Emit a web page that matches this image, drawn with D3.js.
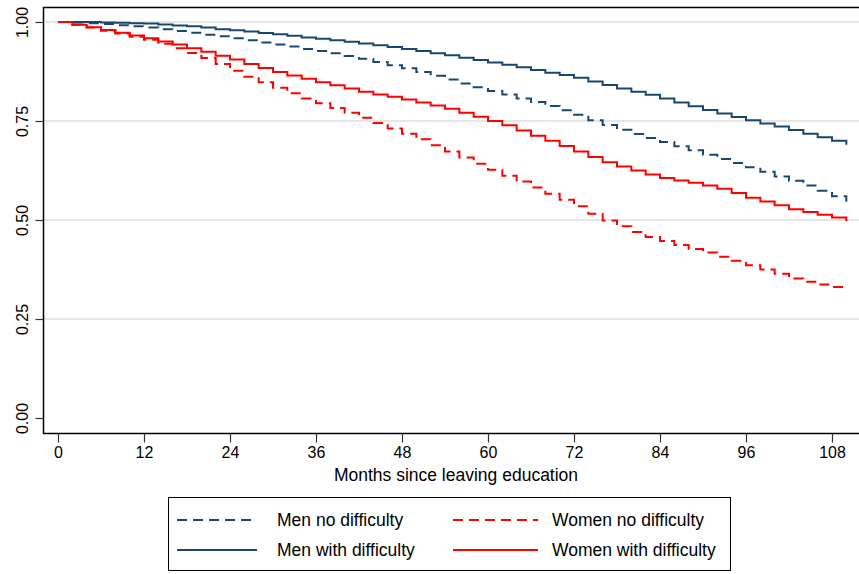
<!DOCTYPE html>
<html>
<head>
<meta charset="utf-8">
<script src="https://cdn.jsdelivr.net/npm/d3@7"></script>
<style>
  body { margin: 0; background: #fff; }
  text { font-family: "Liberation Sans", Arial, sans-serif; }
</style>
</head>
<body>
<div id="chart"></div>
<script>
// Months at which the survival estimates were read off (every 2 months, last at 110)
var months = [0, 2, 4, 6, 8, 10, 12, 14, 16, 18, 20, 22, 24, 26, 28, 30, 32, 34, 36, 38, 40,
              42, 44, 46, 48, 50, 52, 54, 56, 58, 60, 62, 64, 66, 68, 70, 72, 74, 76, 78, 80,
              82, 84, 86, 88, 90, 92, 94, 96, 98, 100, 102, 104, 106, 108, 110];

var menNoDiff = [1.0, 0.999, 0.997, 0.995, 0.992, 0.989, 0.986, 0.982, 0.977, 0.973, 0.968,
                 0.964, 0.959, 0.954, 0.948, 0.943, 0.938, 0.932, 0.927, 0.921, 0.914,
                 0.907, 0.899, 0.891, 0.883, 0.874, 0.864, 0.855, 0.845, 0.835, 0.826,
                 0.817, 0.807, 0.798, 0.788, 0.777, 0.766, 0.752, 0.740, 0.728, 0.717,
                 0.707, 0.697, 0.686, 0.676, 0.665, 0.654, 0.644, 0.633, 0.622, 0.610,
                 0.599, 0.587, 0.574, 0.560, 0.546];

var menWithDiff = [1.0, 1.0, 1.0, 0.999, 0.998, 0.997, 0.996, 0.994, 0.991, 0.989, 0.986,
                   0.982, 0.979, 0.976, 0.972, 0.969, 0.965, 0.961, 0.958, 0.954, 0.950,
                   0.946, 0.941, 0.937, 0.932, 0.927, 0.921, 0.916, 0.910, 0.904, 0.898,
                   0.892, 0.886, 0.879, 0.872, 0.866, 0.859, 0.850, 0.841, 0.832, 0.824,
                   0.816, 0.807, 0.797, 0.787, 0.778, 0.769, 0.760, 0.752, 0.744, 0.736,
                   0.727, 0.718, 0.709, 0.700, 0.690];

var womenNoDiff = [1.0, 0.993, 0.986, 0.978, 0.971, 0.963, 0.955, 0.945, 0.934, 0.922, 0.909,
                   0.894, 0.877, 0.862, 0.848, 0.834, 0.820, 0.807, 0.795, 0.783, 0.771,
                   0.758, 0.745, 0.731, 0.718, 0.704, 0.689, 0.673, 0.658, 0.642, 0.627,
                   0.612, 0.597, 0.582, 0.566, 0.551, 0.535, 0.516, 0.499, 0.484, 0.470,
                   0.457, 0.447, 0.437, 0.427, 0.418, 0.407, 0.397, 0.386, 0.375, 0.364,
                   0.352, 0.344, 0.337, 0.331, 0.325];

var womenWithDiff = [1.0, 0.993, 0.987, 0.980, 0.973, 0.966, 0.959, 0.951, 0.943, 0.934, 0.925,
                     0.915, 0.905, 0.894, 0.884, 0.874, 0.865, 0.857, 0.848, 0.840, 0.832,
                     0.824, 0.817, 0.811, 0.804, 0.797, 0.789, 0.781, 0.771, 0.761, 0.750,
                     0.739, 0.726, 0.713, 0.700, 0.687, 0.673, 0.659, 0.646, 0.635, 0.625,
                     0.615, 0.606, 0.600, 0.594, 0.587, 0.579, 0.568, 0.556, 0.547, 0.537,
                     0.527, 0.520, 0.513, 0.506, 0.497];

var xTicks = [0, 12, 24, 36, 48, 60, 72, 84, 96, 108];
var yTicks = [0, 0.25, 0.5, 0.75, 1];

var series = [
  { name: "Men no difficulty", values: menNoDiff, color: "#1a476f", dash: "10,6" },
  { name: "Women no difficulty", values: womenNoDiff, color: "#ff0000", dash: "10,6" },
  { name: "Men with difficulty", values: menWithDiff, color: "#1a476f", dash: null },
  { name: "Women with difficulty", values: womenWithDiff, color: "#ff0000", dash: null }
];

var width = 859, height = 574;

var svg = d3.select("#chart").append("svg")
    .attr("width", width)
    .attr("height", height);

var x = d3.scaleLinear().domain([0, 108]).range([58, 832]);
var y = d3.scaleLinear().domain([0, 1]).range([418, 22]);

// gridlines
svg.append("g")
    .selectAll("line")
    .data(yTicks.filter(d => d > 0))
    .enter().append("line")
    .attr("x1", 44).attr("x2", width)
    .attr("y1", d => y(d)).attr("y2", d => y(d))
    .attr("stroke", "#e6e6e6")
    .attr("stroke-width", 2);

// plot frame (right side runs off the page)
svg.append("path")
    .attr("d", "M" + (width + 2) + ",7.5H43.5V433.5H" + (width + 2))
    .attr("fill", "none")
    .attr("stroke", "#000")
    .attr("stroke-width", 1.5);

// y axis
var yAxis = svg.append("g")
    .attr("transform", "translate(43.5,0)")
    .call(d3.axisLeft(y).tickValues(yTicks).tickFormat(d3.format(".2f")).tickSize(8));
yAxis.select(".domain").remove();
yAxis.selectAll(".tick line").attr("stroke", "#333").attr("stroke-width", 1.2);
yAxis.selectAll("text")
    .attr("transform", "rotate(-90)")
    .attr("x", 0).attr("y", -16)
    .attr("dy", "0")
    .style("text-anchor", "middle")
    .style("font-size", "16px")
    .attr("fill", "#000");

// x axis
var xAxis = svg.append("g")
    .attr("transform", "translate(0,433.5)")
    .call(d3.axisBottom(x).tickValues(xTicks).tickSize(9).tickPadding(4));
xAxis.select(".domain").remove();
xAxis.selectAll(".tick line").attr("stroke", "#333").attr("stroke-width", 1.2);
xAxis.selectAll("text")
    .style("font-size", "16px")
    .attr("fill", "#000");

svg.append("text")
    .attr("x", 456).attr("y", 481)
    .attr("text-anchor", "middle")
    .style("font-size", "17.5px")
    .text("Months since leaving education");

// survival curves
var line = d3.line()
    .x((d, i) => x(months[i]))
    .y(d => y(d))
    .curve(d3.curveStepAfter);

svg.append("g")
    .selectAll("path")
    .data(series)
    .enter().append("path")
    .attr("d", d => line(d.values))
    .attr("fill", "none")
    .attr("stroke", d => d.color)
    .attr("stroke-width", 2)
    .attr("stroke-dasharray", d => d.dash);

// legend
var legend = svg.append("g");
legend.append("rect")
    .attr("x", 168.5).attr("y", 497.5)
    .attr("width", 562).attr("height", 73)
    .attr("fill", "#fff")
    .attr("stroke", "#000")
    .attr("stroke-width", 1);

var items = legend.selectAll(".item")
    .data(series)
    .enter().append("g")
    .attr("class", "item")
    .attr("transform", (d, i) => "translate(" + (i % 2 ? 453 : 177) + "," + (i < 2 ? 520 : 550) + ")");

items.append("line")
    .attr("x1", 0).attr("x2", (d, i) => i % 2 ? 85 : 80)
    .attr("stroke", d => d.color)
    .attr("stroke-width", 2)
    .attr("stroke-dasharray", d => d.dash);

items.append("text")
    .attr("x", (d, i) => i % 2 ? 99 : 100)
    .attr("dy", "0.35em")
    .style("font-size", "17.5px")
    .text(d => d.name);
</script>
</body>
</html>
